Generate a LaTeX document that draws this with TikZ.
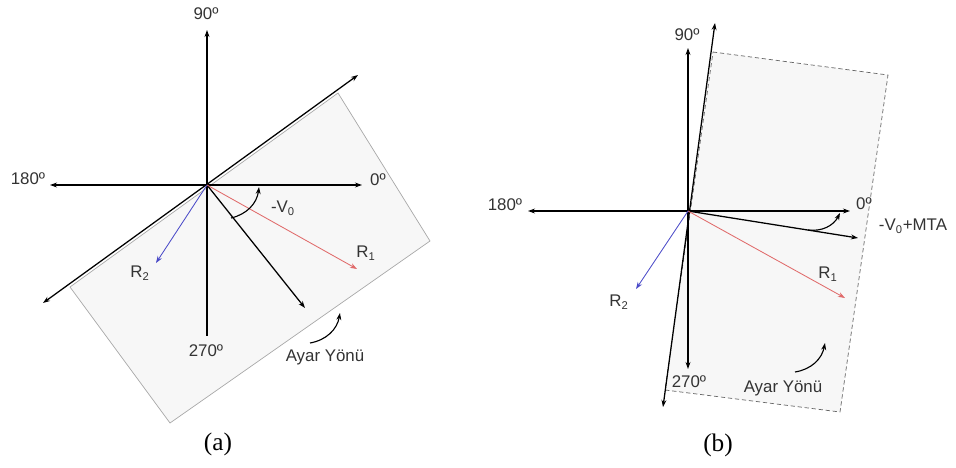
\documentclass[tikz,border=0pt]{standalone}
\usepackage{fontspec}
\setmainfont{Liberation Sans}
\newfontfamily\capfont{Liberation Serif}
\usetikzlibrary{arrows.meta}

\definecolor{zonefill}{HTML}{F7F7F7}
\definecolor{zoneline}{HTML}{A8A8A8}
\definecolor{rone}{HTML}{E06A6A}
\definecolor{rtwo}{HTML}{4A4AC8}

\begin{document}
\begin{tikzpicture}[
  x=0.25mm, y=-0.25mm,
  >={Stealth[length=5pt,width=3.5pt]},
  axis/.style={draw,line width=1.3pt},
  tilt/.style={draw,line width=0.9pt,<->},
  vec/.style={draw,line width=0.9pt,->},
  zone/.style={fill=zonefill,draw=zoneline,line width=0.5pt},
  turn/.style={draw,line width=0.8pt,->,bend right=35},
  lbl/.style={inner sep=0pt,text=black!80,font=\fontsize{12}{14}\selectfont},
  subcap/.style={inner sep=0pt,font=\capfont\fontsize{18}{20}\selectfont}
]
  \useasboundingbox (0,0) rectangle (956,467);

  % (a)
  \path[zone] (70,287) -- (338,93) -- (430,241) -- (170,423) -- cycle;
  \coordinate (oa) at (207,185);
  \coordinate (na) at (207,30);
  \coordinate (sa) at (207,336);
  \coordinate (wa) at (50,185);
  \coordinate (ea) at (362,185);
  \coordinate (ta1) at (43,303);
  \coordinate (ta2) at (358,75);
  \coordinate (va) at (305,308);
  \coordinate (r1a) at (357,269);
  \coordinate (r2a) at (156,263);
  \coordinate (aa1) at (231,218);
  \coordinate (aa2) at (259,187);
  \coordinate (ya1) at (310,343);
  \coordinate (ya2) at (340,313);

  \draw[axis,->] (oa) -- (na);
  \draw[axis] (oa) -- (sa);
  \draw[axis,<->] (wa) -- (ea);
  \draw[tilt] (ta1) -- (ta2);
  \draw[vec] (oa) -- (va);
  \draw[vec,line width=0.6pt,rone] (oa) -- (r1a);
  \draw[vec,line width=0.6pt,rtwo] (oa) -- (r2a);
  \draw[turn] (aa1) to (aa2);
  \draw[turn] (ya1) to (ya2);

  \node[lbl] (d90a) at (206,14) {90º};
  \node[lbl] (d270a) at (206,351) {270º};
  \node[lbl] (d180a) at (28,179) {180º};
  \node[lbl] (d0a) at (378,180) {0º};
  \node[lbl] (n1a) at (366,253) {R\textsubscript{1}};
  \node[lbl] (n2a) at (140,273) {R\textsubscript{2}};
  \node[lbl] (phia) at (283,208) {-V\textsubscript{0}};
  \node[lbl] (ayara) at (325,357) {Ayar Yönü};
  \node[subcap] (capa) at (218,444) {(a)};

  % (b)
  \path[zone,densely dashed,draw=black!60] (713,52) -- (888,75) -- (840,412) -- (665,390) -- cycle;
  \coordinate (ob) at (688,211);
  \coordinate (nb) at (688,48);
  \coordinate (sb) at (688,369);
  \coordinate (wb) at (528,211);
  \coordinate (eb) at (850,211);
  \coordinate (tb1) at (663,407);
  \coordinate (tb2) at (715,23);
  \coordinate (vb) at (858,238);
  \coordinate (r1b) at (845,298);
  \coordinate (r2b) at (636,289);
  \coordinate (ab1) at (808,230);
  \coordinate (ab2) at (840,213);
  \coordinate (yb1) at (795,372);
  \coordinate (yb2) at (825,343);

  \draw[axis,->] (ob) -- (nb);
  \draw[axis,->] (ob) -- (sb);
  \draw[axis,<->] (wb) -- (eb);
  \draw[tilt] (tb1) -- (tb2);
  \draw[vec] (ob) -- (vb);
  \draw[vec,line width=0.6pt,rone] (ob) -- (r1b);
  \draw[vec,line width=0.6pt,rtwo] (ob) -- (r2b);
  \draw[turn] (ab1) to (ab2);
  \draw[turn] (yb1) to (yb2);

  \node[lbl] (d90b) at (687,35) {90º};
  \node[lbl] (d270b) at (689,382) {270º};
  \node[lbl] (d180b) at (505,205) {180º};
  \node[lbl] (d0b) at (864,204) {0º};
  \node[lbl] (n1b) at (828,274) {R\textsubscript{1}};
  \node[lbl] (n2b) at (619,302) {R\textsubscript{2}};
  \node[lbl] (phib) at (913,226) {-V\textsubscript{0}+MTA};
  \node[lbl] (ayarb) at (783,388) {Ayar Yönü};
  \node[subcap] (capb) at (718,445) {(b)};
\end{tikzpicture}
\end{document}
